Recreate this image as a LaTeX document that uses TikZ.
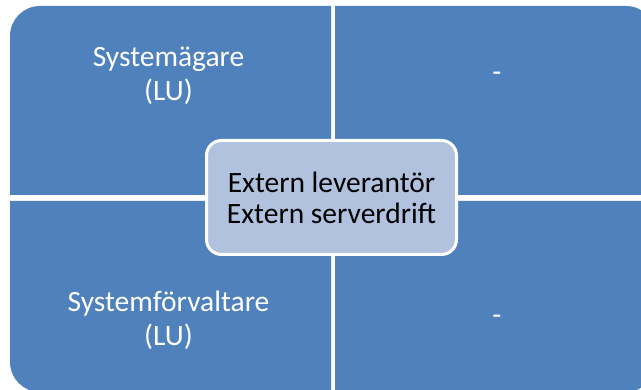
\documentclass[tikz,border=0pt]{standalone}
\usepackage{fontspec}
\setmainfont{Carlito}
\usepackage{tikz}
\definecolor{quadblue}{RGB}{79,129,189}
\definecolor{centerblue}{RGB}{177,194,223}

\begin{document}
\begin{tikzpicture}[x=1pt,y=1pt,
    quad/.style={fill=quadblue},
    quadtext/.style={text=white,align=center,font=\fontsize{29.5}{34}\selectfont},
    centerbox/.style={draw=white,line width=3pt,fill=centerblue,rounded corners=15pt,
        minimum width=250pt,minimum height=114pt,align=center,
        font=\fontsize{29.5}{31}\selectfont}]
            \clip (0,0) rectangle (641,389);
            % quadrants, outer corners rounded
            \fill[quad] (331,194) -- (10,194) -- (10,353) arc[start angle=180,end angle=90,radius=30] -- (331,383) -- cycle;
            \fill[quad] (335,194) -- (335,383) -- (626,383) arc[start angle=90,end angle=0,radius=30] -- (656,194) -- cycle;
            \fill[quad] (331,188) -- (10,188) -- (10,27) arc[start angle=180,end angle=270,radius=30] -- (331,-3) -- cycle;
            \fill[quad] (335,188) -- (656,188) -- (656,27) arc[start angle=0,end angle=-90,radius=30] -- (335,-3) -- cycle;
            \node[quadtext] (owner) at (168.5,313) {Systemägare\\(LU)};
            \node[quadtext] (dashtop) at (497,312) {-};
            \node[quadtext] (admin) at (168.5,68.5) {Systemförvaltare\\(LU)};
            \node[quadtext] (dashbottom) at (497,69) {-};
            \node[centerbox] (supplier) at (331.5,191.5) {Extern leverantör\\Extern serverdrift};
        \end{tikzpicture}
\end{document}
